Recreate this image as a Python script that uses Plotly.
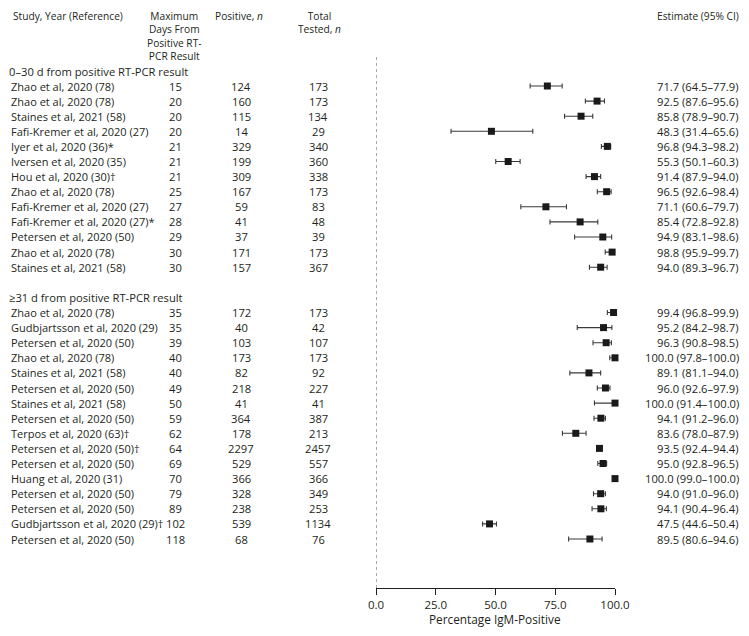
import plotly.graph_objects as go

# ---------------- data ----------------
sec1_label = "0–30 d from positive RT-PCR result"
sec1_study = ["Zhao et al, 2020 (78)", "Zhao et al, 2020 (78)", "Staines et al, 2021 (58)",
              "Fafi-Kremer et al, 2020 (27)", "Iyer et al, 2020 (36)*", "Iversen et al, 2020 (35)",
              "Hou et al, 2020 (30)†", "Zhao et al, 2020 (78)", "Fafi-Kremer et al, 2020 (27)",
              "Fafi-Kremer et al, 2020 (27)*", "Petersen et al, 2020 (50)", "Zhao et al, 2020 (78)",
              "Staines et al, 2021 (58)"]
sec1_days = [15, 20, 20, 20, 21, 21, 21, 25, 27, 28, 29, 30, 30]
sec1_pos = [124, 160, 115, 14, 329, 199, 309, 167, 59, 41, 37, 171, 157]
sec1_tot = [173, 173, 134, 29, 340, 360, 338, 173, 83, 48, 39, 173, 367]
sec1_est = [71.7, 92.5, 85.8, 48.3, 96.8, 55.3, 91.4, 96.5, 71.1, 85.4, 94.9, 98.8, 94.0]
sec1_lo = [64.5, 87.6, 78.9, 31.4, 94.3, 50.1, 87.9, 92.6, 60.6, 72.8, 83.1, 95.9, 89.3]
sec1_hi = [77.9, 95.6, 90.7, 65.6, 98.2, 60.3, 94.0, 98.4, 79.7, 92.8, 98.6, 99.7, 96.7]

sec2_label = "≥31 d from positive RT-PCR result"
sec2_study = ["Zhao et al, 2020 (78)", "Gudbjartsson et al, 2020 (29)", "Petersen et al, 2020 (50)",
              "Zhao et al, 2020 (78)", "Staines et al, 2021 (58)", "Petersen et al, 2020 (50)",
              "Staines et al, 2021 (58)", "Petersen et al, 2020 (50)", "Terpos et al, 2020 (63)†",
              "Petersen et al, 2020 (50)†", "Petersen et al, 2020 (50)", "Huang et al, 2020 (31)",
              "Petersen et al, 2020 (50)", "Petersen et al, 2020 (50)", "Gudbjartsson et al, 2020 (29)†",
              "Petersen et al, 2020 (50)"]
sec2_days = [35, 35, 39, 40, 40, 49, 50, 59, 62, 64, 69, 70, 79, 89, 102, 118]
sec2_pos = [172, 40, 103, 173, 82, 218, 41, 364, 178, 2297, 529, 366, 328, 238, 539, 68]
sec2_tot = [173, 42, 107, 173, 92, 227, 41, 387, 213, 2457, 557, 366, 349, 253, 1134, 76]
sec2_est = [99.4, 95.2, 96.3, 100.0, 89.1, 96.0, 100.0, 94.1, 83.6, 93.5, 95.0, 100.0, 94.0, 94.1, 47.5, 89.5]
sec2_lo = [96.8, 84.2, 90.8, 97.8, 81.1, 92.6, 91.4, 91.2, 78.0, 92.4, 92.8, 99.0, 91.0, 90.4, 44.6, 80.6]
sec2_hi = [99.9, 98.7, 98.5, 100.0, 94.0, 97.9, 100.0, 96.0, 87.9, 94.4, 96.5, 100.0, 96.0, 96.4, 50.4, 94.6]

header_study = ["Study, Year (Reference)"]
header_days = ["Maximum", "Days From", "Positive RT-", "PCR Result"]
header_pos = ["Positive, <i>n</i>"]
header_tot = ["Total", "Tested, <i>n</i>"]
header_est = ["Estimate (95% CI)"]

tick_vals = [0, 25, 50, 75, 100]
tick_text = ["0.0", "25.0", "50.0", "75.0", "100.0"]
x_title = "Percentage IgM-Positive"

# ---------------- layout helpers ----------------
# The page body has an 8 px margin; keep the figure inside the window
OFF = 8
W, H = 749 - 2 * OFF, 636 - 2 * OFF
ROW0_PX = 86.0      # page y of first data row
ROW_PX = 15.1       # row pitch
PLOT_TOP_PX = OFF
PLOT_BOTTOM_PX = 588.0
PLOT_H = PLOT_BOTTOM_PX - PLOT_TOP_PX


def fx(px):
    return (px - OFF) / W


def fy(py):
    return (PLOT_BOTTOM_PX - py) / PLOT_H


def px_to_row(p):
    return (p - ROW0_PX) / ROW_PX


def row_to_px(r):
    return ROW0_PX + r * ROW_PX


FONT = "Open Sans"
TXT = "#231f20"
FS = 11.2

fig = go.Figure()

rows1 = list(range(len(sec1_study)))
label1_row = -1
label2_row = len(sec1_study) + 1
rows2 = [label2_row + 1 + i for i in range(len(sec2_study))]

all_rows = rows1 + rows2
all_est = sec1_est + sec2_est
all_lo = sec1_lo + sec2_lo
all_hi = sec1_hi + sec2_hi

fig.add_trace(go.Scatter(
    x=all_est, y=all_rows, mode="markers",
    marker=dict(symbol="square", size=7, color="#1a1a1a"),
    error_x=dict(type="data", symmetric=False,
                 array=[h - e for e, h in zip(all_est, all_hi)],
                 arrayminus=[e - l for e, l in zip(all_est, all_lo)],
                 color="#3a3a3a", thickness=1.1, width=2.5),
    cliponaxis=False, showlegend=False, hoverinfo="skip"))

fig.add_shape(type="line", xref="x", yref="paper", x0=0, x1=0,
              y0=fy(57), y1=0,
              line=dict(color="#555", width=1, dash="dot"))

ann = []


def add_text(xpx, ypx, text, anchor="left", size=FS, yanchor="middle"):
    ann.append(dict(x=fx(xpx), xref="paper", y=fy(ypx), yref="paper", text=text,
                    xanchor=anchor, yanchor=yanchor, showarrow=False, borderpad=0,
                    align="center" if anchor == "center" else anchor,
                    font=dict(family=FONT, size=size, color=TXT)))


add_text(OFF, row_to_px(label1_row) + 1, sec1_label)
add_text(OFF, row_to_px(label2_row), sec2_label)

EST_RIGHT = 740


def add_section(rows, study, days, pos, tot, est, lo, hi):
    for r, s, d, p, t, e, l, h in zip(rows, study, days, pos, tot, est, lo, hi):
        y = row_to_px(r)
        add_text(10, y, s, size=11)
        add_text(175, y, str(d), "center")
        add_text(241, y, str(p), "center")
        add_text(318, y, str(t), "center")
        add_text(EST_RIGHT, y, f"{e:.1f} ({l:.1f}–{h:.1f})", "right")


add_section(rows1, sec1_study, sec1_days, sec1_pos, sec1_tot, sec1_est, sec1_lo, sec1_hi)
add_section(rows2, sec2_study, sec2_days, sec2_pos, sec2_tot, sec2_est, sec2_lo, sec2_hi)

HDR_TOP = 8.5
HDR_FS = 10.2


def add_header(xpx, lines, anchor):
    add_text(xpx, HDR_TOP, "<br>".join(lines), anchor, size=HDR_FS, yanchor="top")


add_header(12, header_study, "left")
add_header(174, header_days, "center")
add_header(239, header_pos, "center")
add_header(319, header_tot, "center")
add_header(EST_RIGHT, header_est, "right")

# axis title
add_text(495, 619, x_title, "center", size=11.8)

fig.update_layout(
    width=W, height=H,
    margin=dict(l=0, r=0, t=PLOT_TOP_PX - OFF, b=H - (PLOT_BOTTOM_PX - OFF)),
    paper_bgcolor="white", plot_bgcolor="white",
    annotations=ann,
    font=dict(family=FONT, size=FS, color=TXT),
    xaxis=dict(domain=[fx(376), fx(615)], range=[0, 100], showgrid=False, zeroline=False,
               showline=True, linecolor="#231f20", linewidth=1.2,
               ticks="outside", ticklen=6, tickwidth=1.2, tickcolor="#231f20",
               tickvals=tick_vals, ticktext=tick_text,
               tickfont=dict(family=FONT, size=11.5, color=TXT),
               automargin=False, fixedrange=True),
    yaxis=dict(range=[px_to_row(PLOT_BOTTOM_PX), px_to_row(PLOT_TOP_PX)],
               visible=False, fixedrange=True),
)

fig.write_html("out.html")
